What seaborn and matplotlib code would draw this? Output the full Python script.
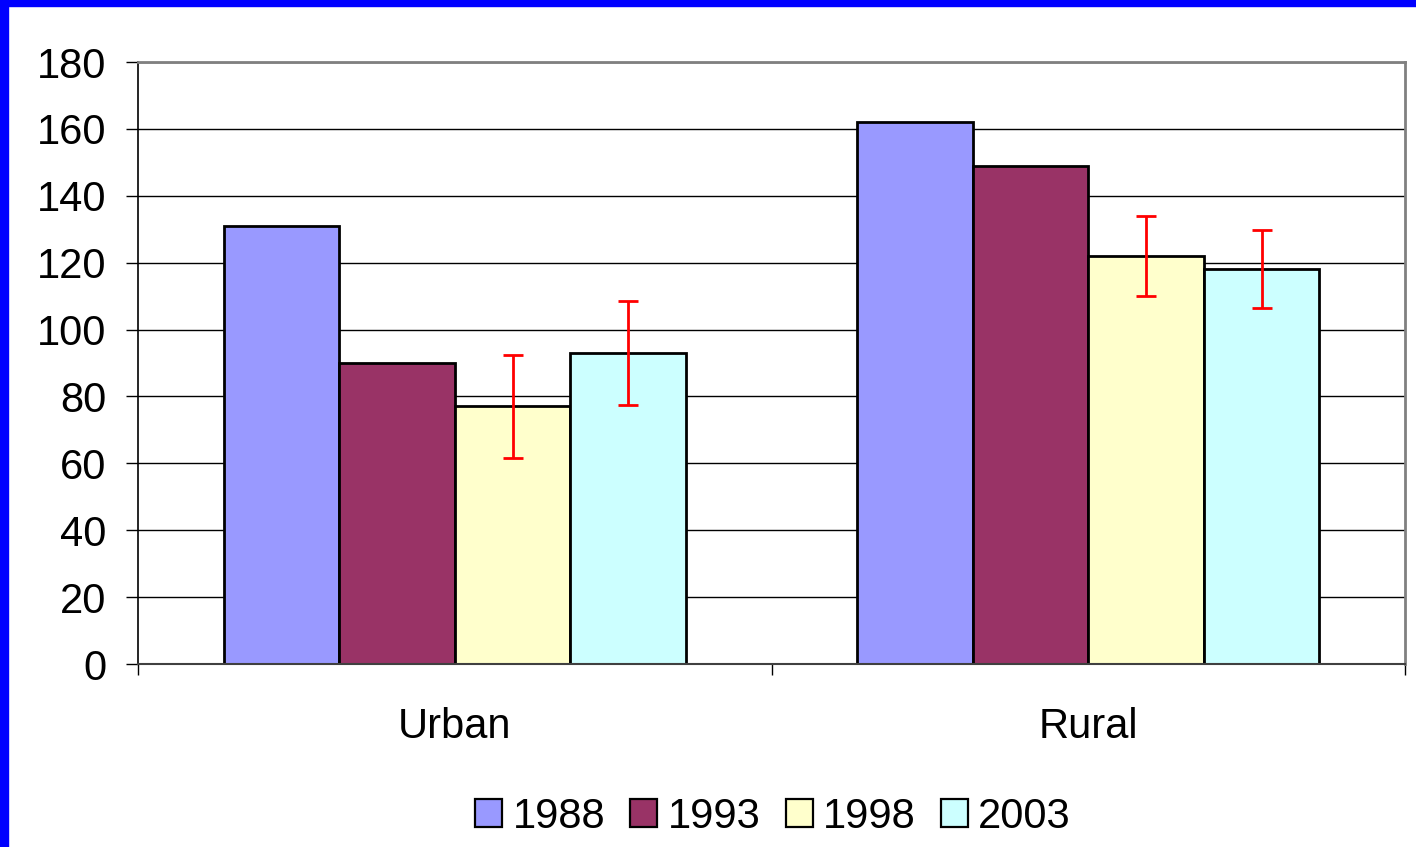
import matplotlib
matplotlib.use("Agg")
import matplotlib.pyplot as plt
from matplotlib.patches import Rectangle
import seaborn as sns
import pandas as pd
import numpy as np

categories = ["Urban", "Rural"]
years = ["1988", "1993", "1998", "2003"]
values_1988 = [131, 162]
values_1993 = [90, 149]
values_1998 = [77, 122]
values_2003 = [93, 118]
err_1998 = [15.3, 12.0]
err_2003 = [15.5, 11.7]
colors = ["#9999FF", "#993366", "#FFFFCC", "#CCFFFF"]

series = {"1988": values_1988, "1993": values_1993, "1998": values_1998, "2003": values_2003}
errors = {"1988": None, "1993": None, "1998": err_1998, "2003": err_2003}
rows = []
for y in years:
    for c, v in zip(categories, series[y]):
        rows.append({"Area": c, "Year": y, "Value": v})
df = pd.DataFrame(rows)

sns.set_theme(style="white")
plt.rcParams["font.family"] = ["Liberation Sans", "DejaVu Sans"]
plt.rcParams["text.color"] = "black"

fig = plt.figure(figsize=(14.16, 8.47), dpi=100)
ax = fig.add_axes([138/1416, 1-664/847, (1405-138)/1416, (664-62)/847])

sns.barplot(data=df, x="Area", y="Value", hue="Year", order=categories, hue_order=years,
            palette=colors, width=0.73, gap=0, edgecolor="black", linewidth=2.0,
            errorbar=None, ax=ax, saturation=1, legend=False)

for cont, y in zip(ax.containers, years):
    if errors[y] is None:
        continue
    xs = [p.get_x() + p.get_width()/2 for p in cont.patches]
    hs = [p.get_height() for p in cont.patches]
    ax.errorbar(xs, hs, yerr=errors[y], fmt="none", ecolor="red", elinewidth=2.0,
                capsize=7, capthick=2.0, zorder=5)

ax.set_ylim(0, 180)
ax.set_yticks(np.arange(0, 181, 20))
ax.set_xlim(-0.5, 1.5)
ax.yaxis.grid(True, color="black", linewidth=1.0)
ax.set_axisbelow(True)
ax.set_xlabel("")
ax.set_ylabel("")

ax.tick_params(axis="y", which="major", length=9, width=1, color="black", direction="out",
               labelsize=30, pad=14, left=True)
ax.tick_params(axis="x", which="major", length=0, labelsize=30, pad=31)
ax.set_xticks([-0.5, 0.5, 1.5], minor=True)
ax.tick_params(axis="x", which="minor", length=8, width=1, color="black", direction="out", bottom=True)
for lbl in ax.get_yticklabels() + ax.get_xticklabels():
    lbl.set_color("black")

ax.spines["left"].set_color("black")
ax.spines["left"].set_linewidth(1.2)
ax.spines["bottom"].set_color("#404040")
ax.spines["bottom"].set_linewidth(1.5)
ax.spines["top"].set_color("#808080")
ax.spines["top"].set_linewidth(2)
ax.spines["right"].set_color("#808080")
ax.spines["right"].set_linewidth(2)

handles = [Rectangle((0, 0), 1, 1, facecolor=c, edgecolor="black", linewidth=1.6) for c in colors]
leg = fig.legend(handles, years, loc="center", bbox_to_anchor=(773/1416, 1-817/847), ncol=4,
                 frameon=False, fontsize=30, handlelength=0.65, handleheight=0.65,
                 handletextpad=0.25, columnspacing=0.6)
for t in leg.get_texts():
    t.set_color("black")

fig.add_artist(Rectangle((0, 0), 8/1416, 1, transform=fig.transFigure, color="#0000FF", zorder=10))
fig.add_artist(Rectangle((0, 1-6/847), 1, 6/847, transform=fig.transFigure, color="#0000FF", zorder=10))

fig.savefig("out.png", dpi=100)
